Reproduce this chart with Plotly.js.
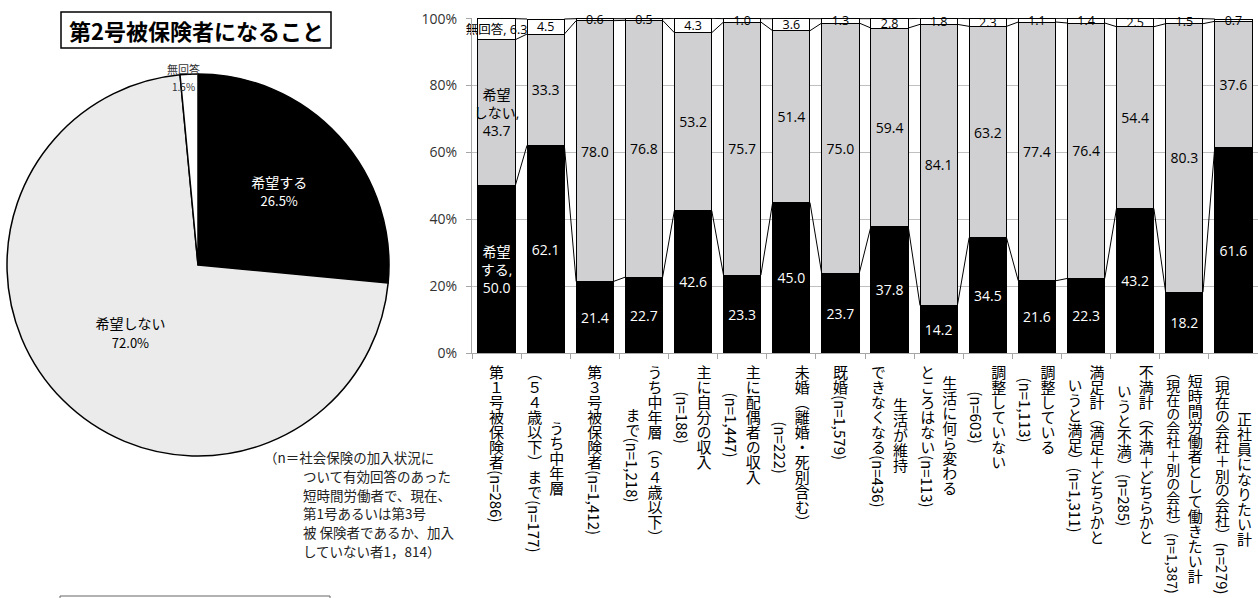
<!DOCTYPE html>
<html><head><meta charset="utf-8">
<script src="https://cdn.plot.ly/plotly-3.0.1.min.js"></script>
<style>html,body{margin:0;padding:0;background:#fff}#chart{width:1258px;height:598px}</style>
</head><body><div id="chart"></div>
<script>
// ---------- data ----------
const categories = [
  '第１号被保険者(n=286)',
  'うち中年層<br>（５４歳以下）まで(n=177)',
  '第３号被保険者(n=1,412)',
  'うち中年層（５４歳以下）<br>まで(n=1,218)',
  '主に自分の収入<br>(n=188)',
  '主に配偶者の収入<br>(n=1,447)',
  '未婚（離婚・死別含む）<br>(n=222)',
  '既婚(n=1,579)',
  '生活が維持<br>できなくなる(n=436)',
  '生活に何ら変わる<br>ところはない(n=113)',
  '調整していない<br>(n=603)',
  '調整している<br>(n=1,113)',
  '満足計（満足＋どちらかと<br>いうと満足）(n=1,311)',
  '不満計（不満＋どちらかと<br>いうと不満）(n=285)',
  '短時間労働者として働きたい計<br>（現在の会社＋別の会社）(n=1,387)',
  '正社員になりたい計<br>（現在の会社＋別の会社）(n=279)'
];
const hope     = [50.0, 62.1, 21.4, 22.7, 42.6, 23.3, 45.0, 23.7, 37.8, 14.2, 34.5, 21.6, 22.3, 43.2, 18.2, 61.6];
const noHope   = [43.7, 33.3, 78.0, 76.8, 53.2, 75.7, 51.4, 75.0, 59.4, 84.1, 63.2, 77.4, 76.4, 54.4, 80.3, 37.6];
const noAnswer = [6.3, 4.5, 0.6, 0.5, 4.3, 1.0, 3.6, 1.3, 2.8, 1.8, 2.3, 1.1, 1.4, 2.5, 1.5, 0.7];
const seriesNames = ['希望する', '希望しない', '無回答'];
const firstBarTexts = ['希望<br>する,', '希望<br>しない,', '無回答,'];
const yTickVals = [0, 20, 40, 60, 80, 100];
const yTickText = ['0%', '20%', '40%', '60%', '80%', '100%'];

const pieLabels = ['希望する', '希望しない', '無回答'];
const pieValues = [26.5, 72.0, 1.5];

const chartTitle = '第2号被保険者になること';
const noteFirst = '（n＝社会保険の加入状況に';
const noteRest = ['ついて有効回答のあった', '短時間労働者で、現在、', '第1号あるいは第3号', '被 保険者であるか、加入', 'していない者1，814）'];

// ---------- layout helpers ----------
const W = 1258, H = 598;
const px = x => x / W;
const py = y => 1 - y / H;
const BW = 0.76;
const idx = categories.map((c, i) => i);
const JP = '"Noto Sans CJK JP", sans-serif';
const NUM = '"Open Sans", "Noto Sans CJK JP", sans-serif';

const cum1 = hope.slice();
const cum2 = hope.map((v, i) => v + noHope[i]);
const cum3 = hope.map((v, i) => v + noHope[i] + noAnswer[i]);

function seriesLine(cum) {
  const xs = [], ys = [];
  for (let i = 0; i < cum.length - 1; i++) {
    xs.push(i + BW / 2, i + 1 - BW / 2, null);
    ys.push(cum[i], cum[i + 1], null);
  }
  return { type: 'scatter', mode: 'lines', x: xs, y: ys, xaxis: 'x', yaxis: 'y',
    line: { color: '#000', width: 1 }, hoverinfo: 'skip', showlegend: false, cliponaxis: false };
}
function barText(vals, k) {
  return vals.map((v, i) => i === 0 ? firstBarTexts[k] + (k === 2 ? ' ' : '<br>') + v.toFixed(1) : v.toFixed(1));
}
function barTrace(vals, k, color, tcolor, tsize) {
  return { type: 'bar', x: idx, y: vals, name: seriesNames[k], width: BW,
    marker: { color: color, line: { color: '#000', width: 1 } },
    text: barText(vals, k), textposition: 'inside', insidetextanchor: 'middle',
    textangle: 0, constraintext: 'none', cliponaxis: false,
    textfont: { family: NUM, size: tsize, color: tcolor },
    hoverinfo: 'skip', showlegend: false };
}

const data = [
  barTrace(hope, 0, '#000000', '#ffffff', 14),
  barTrace(noHope, 1, '#d0d0d2', '#000000', 14),
  barTrace(noAnswer, 2, '#ffffff', '#000000', 12.5),
  seriesLine(cum1), seriesLine(cum2), seriesLine(cum3),
  { type: 'pie', labels: pieLabels, values: pieValues, sort: false,
    direction: 'clockwise', rotation: 0,
    domain: { x: [px(7), px(389)], y: [py(456), py(74)] },
    marker: { colors: ['#000000', '#ebebeb', '#ffffff'], line: { color: '#000', width: 1.5 } },
    texttemplate: ['%{label}<br><span style="font-size:13px">%{percent:.1%}</span>',
                   '%{label}<br><span style="font-size:13px">%{percent:.1%}</span>', ''],
    textposition: 'inside', insidetextorientation: 'horizontal',
    textfont: { family: JP, size: 14, color: ['#ffffff', '#000000', '#000000'] },
    hoverinfo: 'skip', showlegend: false }
];

const annotations = [
  { xref: 'paper', yref: 'paper', x: px(196), y: py(30), text: chartTitle, showarrow: false,
    font: { family: JP, size: 22, color: '#000', weight: 700 }, xanchor: 'center', yanchor: 'middle' },
  { xref: 'paper', yref: 'paper', x: px(183), y: py(69), text: pieLabels[2], showarrow: false,
    font: { family: JP, size: 11, color: '#333' }, xanchor: 'center', yanchor: 'middle' },
  { xref: 'paper', yref: 'paper', x: px(183), y: py(86), text: pieValues[2].toFixed(1) + '%', showarrow: false,
    font: { family: JP, size: 10, color: '#333' }, xanchor: 'center', yanchor: 'middle' },
  { xref: 'paper', yref: 'paper', x: px(262), y: py(457), text: noteFirst, showarrow: false,
    font: { family: JP, size: 13.5, color: '#222' }, xanchor: 'left', yanchor: 'middle' }
].concat(noteRest.map((t, k) => ({
  xref: 'paper', yref: 'paper', x: px(301), y: py(476 + k * 18.7), text: t, showarrow: false,
  font: { family: JP, size: 13.5, color: '#222' }, xanchor: 'left', yanchor: 'middle' })));

const shapes = [
  { type: 'rect', xref: 'paper', yref: 'paper', x0: px(61), x1: px(331), y0: py(48), y1: py(12),
    line: { color: '#000', width: 1.5 }, fillcolor: 'rgba(0,0,0,0)' },
  { type: 'rect', xref: 'paper', yref: 'paper', x0: px(60), x1: px(330), y0: py(640), y1: py(596),
    line: { color: '#666', width: 1 }, fillcolor: 'rgba(0,0,0,0)' }
];

const layout = {
  width: W, height: H, autosize: false,
  margin: { l: 0, r: 0, t: 0, b: 0, pad: 0 },
  paper_bgcolor: '#fff', plot_bgcolor: '#fff',
  barmode: 'stack', showlegend: false,
  font: { family: JP, color: '#000' },
  xaxis: { domain: [px(472), 1], range: [-0.5, idx.length - 0.5], tickmode: 'array',
    tickvals: idx, ticktext: categories, ticks: '', showgrid: false, zeroline: false,
    showline: true, linecolor: '#a6a6a6', linewidth: 1, fixedrange: true,
    tickfont: { family: JP, size: 15, color: '#000' },
    minor: { tickmode: 'array', tickvals: idx.map(i => i - 0.5).concat([idx.length - 0.5]),
      ticks: 'outside', ticklen: 5, tickcolor: '#a6a6a6', tickwidth: 1, showgrid: false } },
  yaxis: { domain: [py(353), py(18)], range: [0, 100.2], tickmode: 'array',
    tickvals: yTickVals, ticktext: yTickText, ticks: 'outside', ticklen: 5,
    tickcolor: '#a6a6a6', showgrid: true, gridcolor: '#c0c0c0', gridwidth: 1.2,
    zeroline: false, showline: true, linecolor: '#a6a6a6', linewidth: 1, fixedrange: true,
    tickfont: { family: NUM, size: 14, color: '#333' }, ticklabelstandoff: 6 },
  annotations: annotations, shapes: shapes
};

// Re-lay the category tick labels as vertical Japanese writing (tate-gaki)
function verticalizeTicks(gd) {
  const ns = 'http://www.w3.org/2000/svg';
  const fl = gd._fullLayout, xa = fl.xaxis, ya = fl.yaxis;
  const svg = gd.querySelector('.main-svg');
  const top = ya._offset + ya._length + 12;
  const bottomLimit = fl.height - 3;
  const COL_SP = 22;
  const FS = 15;
  const layer = document.createElementNS(ns, 'g');
  layer.setAttribute('class', 'vertical-xticks');
  svg.appendChild(layer);
  const ticks = Array.from(gd.querySelectorAll('.xaxislayer-above .xtick'));
  ticks.forEach((tg, n) => {
    const t = tg.querySelector('text');
    if (!t) return;
    const d = tg.__data__;
    const i = (d && typeof d.x === 'number') ? Math.round(d.x) : n;
    const cols = categories[i].split('<br>');
    const cx = xa._offset + xa.l2p(i);
    const els = cols.map((c, k) => {
      const e = document.createElementNS(ns, 'text');
      e.textContent = c;
      e.setAttribute('x', cx + ((cols.length - 1) / 2 - k) * COL_SP);
      e.setAttribute('y', top);
      e.setAttribute('style', 'writing-mode:vertical-rl;font-family:"Noto Sans CJK JP";font-size:' + FS + 'px;fill:#000;');
      layer.appendChild(e);
      return e;
    });
    // shrink any column that would run past the bottom of the picture
    els.forEach(e => {
      const L = e.getBBox().height;
      if (top + L > bottomLimit) {
        const fs = Math.floor(FS * (bottomLimit - top) / L * 10) / 10;
        e.style.fontSize = fs + 'px';
      }
    });
    const lens = els.map(e => e.getBBox().height);
    const maxL = Math.max.apply(null, lens);
    els.forEach((e, k) => e.setAttribute('y', top + (maxL - lens[k]) / 2));
    t.remove();
  });
}

Plotly.newPlot('chart', data, layout, { displayModeBar: false, staticPlot: true })
  .then(verticalizeTicks);
</script>
</body></html>
